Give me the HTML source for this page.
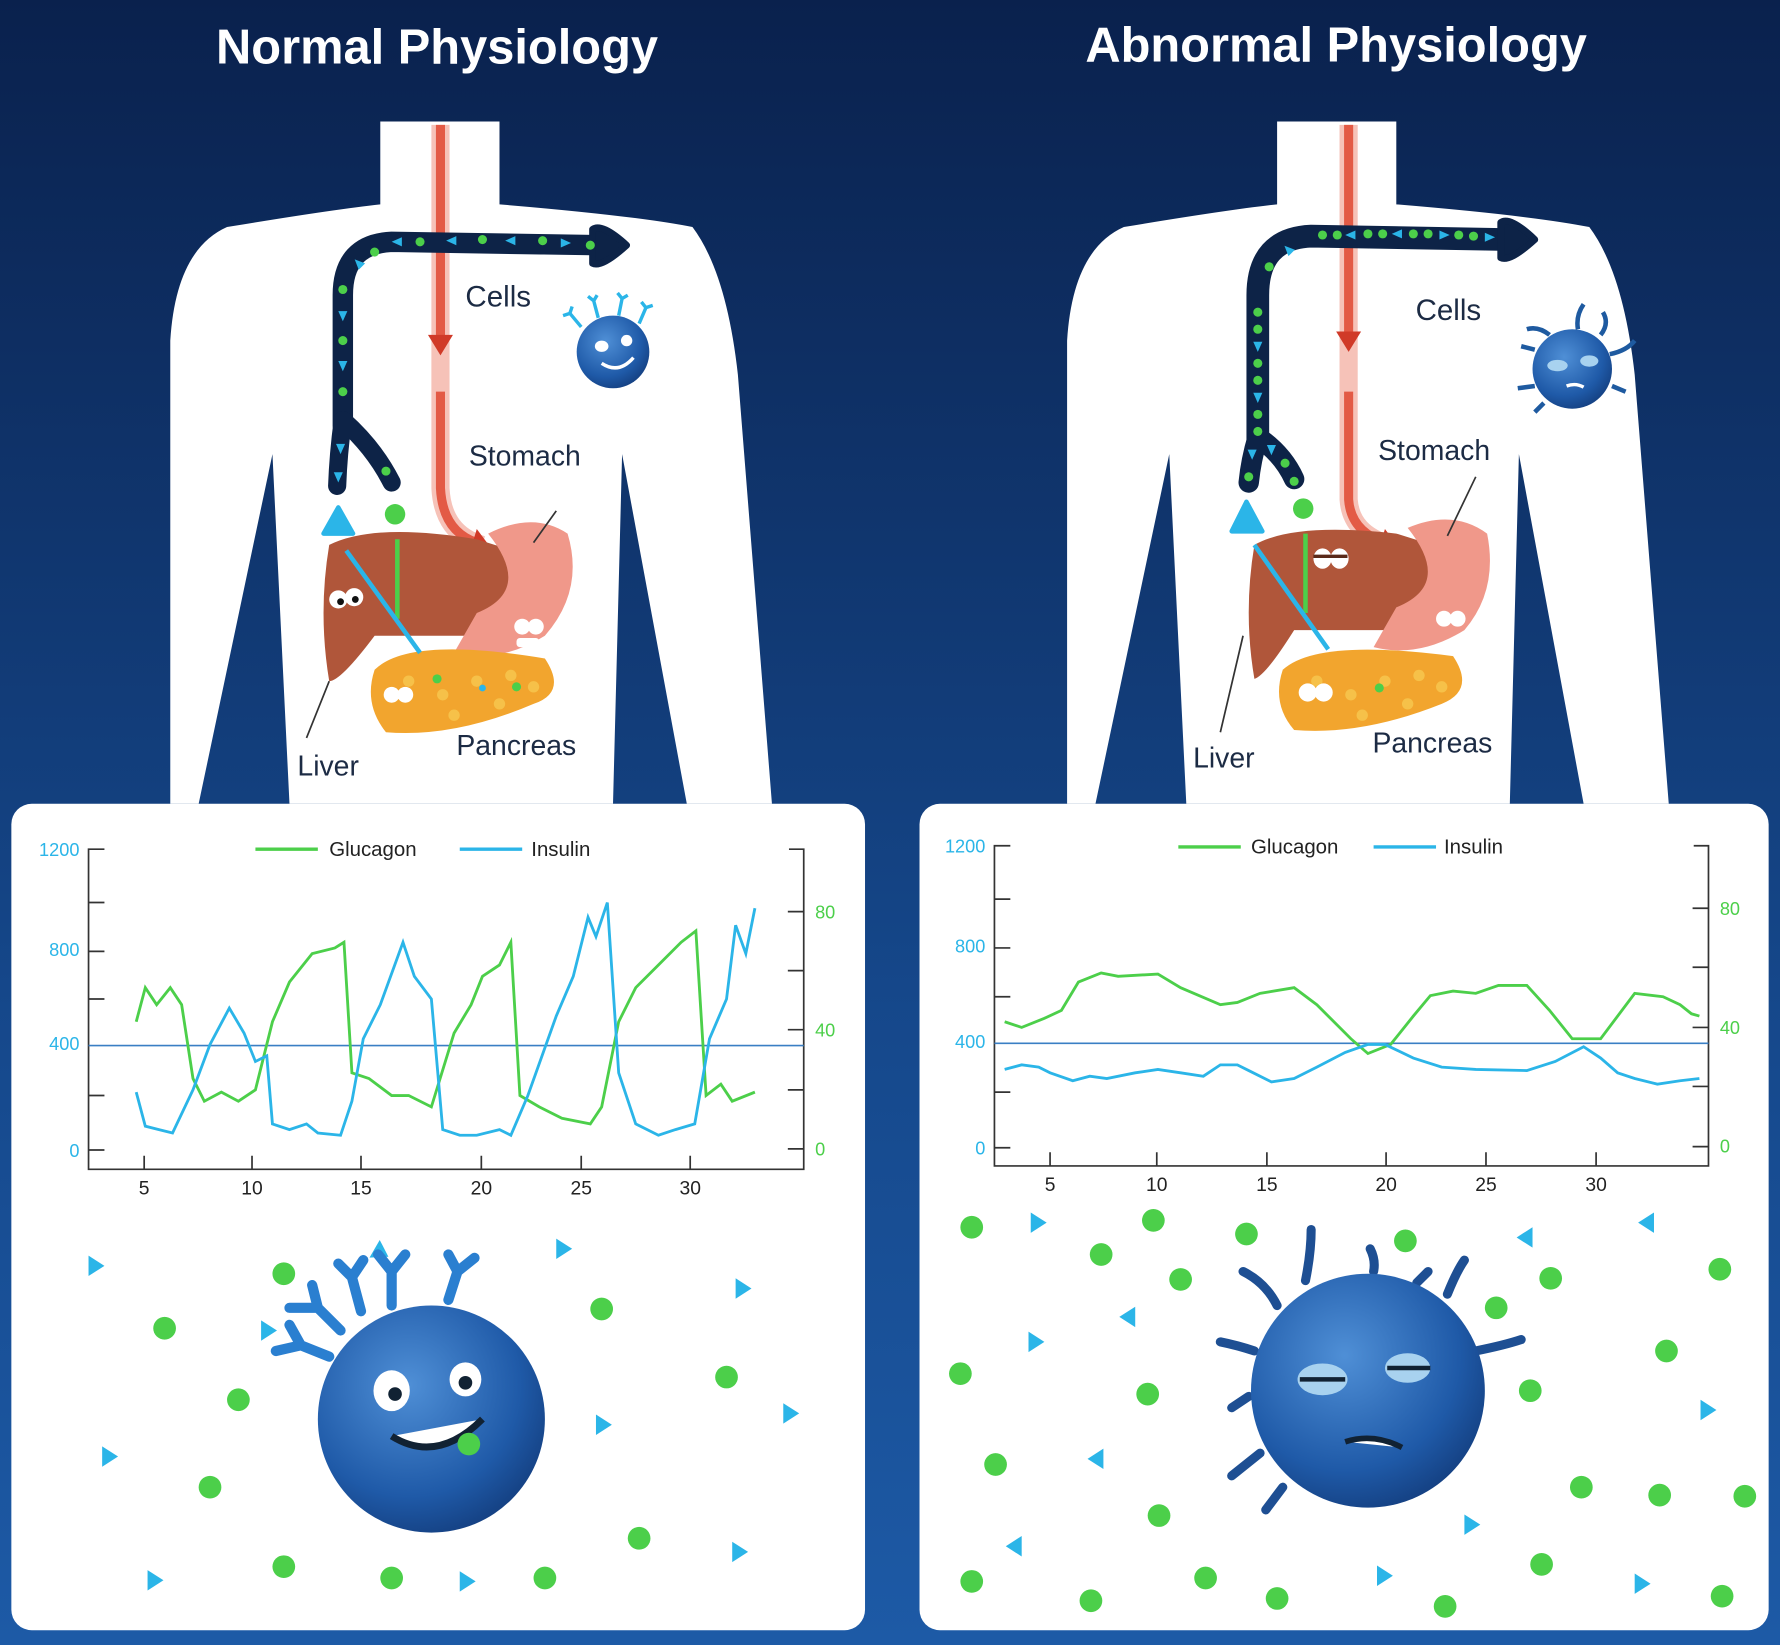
<!DOCTYPE html>
<html><head><meta charset="utf-8"><style>
html,body{margin:0;padding:0;background:#0d2a5e;}
svg{display:block}
text{font-family:"Liberation Sans",sans-serif}
</style></head><body>
<svg width="1780" height="1645" viewBox="0 0 1568 1449" preserveAspectRatio="none" xmlns="http://www.w3.org/2000/svg">
<defs>
<linearGradient id="bg" x1="0" y1="0" x2="0" y2="1">
<stop offset="0" stop-color="#0a214d"/><stop offset="0.6" stop-color="#15478a"/><stop offset="1" stop-color="#1d5aa6"/></linearGradient>
<radialGradient id="cell" cx="0.4" cy="0.35" r="0.7"><stop offset="0" stop-color="#4f8fd6"/><stop offset="0.7" stop-color="#1f5aa8"/><stop offset="1" stop-color="#143f80"/></radialGradient>
<g id="body">
<path d="M335,107 L440,107 L440,180 Q560,190 610,200 Q640,240 650,330 L680,708 L605,708 L548,400 L540,708 L255,708 L240,400 L175,708 L150,708 L150,300 Q155,220 200,200 Q290,185 335,180 Z" fill="#fff"/>
</g>
<g id="tri"><path d="M0,-9 L14,0 L0,9 Z" fill="#2bb5e8"/></g>
<g id="st"><path d="M-4,-4 L5,0 L-4,4Z" fill="#2bb5e8"/></g>
</defs>
<rect width="1568" height="1449" fill="url(#bg)"/>
<text x="385" y="56" text-anchor="middle" fill="#fff" font-size="43" font-weight="bold">Normal Physiology</text>
<text x="1177" y="54" text-anchor="middle" fill="#fff" font-size="43" font-weight="bold">Abnormal Physiology</text>

<use href="#body"/>
<use href="#body" transform="translate(790,0)"/>

<!-- left organs -->
<path d="M388,110 L388,430 Q390,470 425,480" stroke="#f6c2b8" stroke-width="16" fill="none"/>
<path d="M388,110 L388,300" stroke="#e35a45" stroke-width="8" fill="none"/>
<path d="M388,345 L388,430 Q390,468 420,478" stroke="#e35a45" stroke-width="8" fill="none"/>
<path d="M377,295 L399,295 L388,313Z" fill="#d03a28"/>
<path d="M420,466 L432,482 L414,486Z" fill="#d03a28"/>
<path d="M302,375 L302,260 Q302,215 345,213 L528,216" stroke="#0d2347" stroke-width="18" fill="none" stroke-linecap="round"/>
<path d="M302,370 Q298,400 297,428 M302,370 Q330,395 345,425" stroke="#0d2347" stroke-width="16" fill="none" stroke-linecap="round"/>
<path d="M522,202 Q530,196 552,216 Q530,236 522,232 Z" fill="#0d2347" stroke="#0d2347" stroke-width="6" stroke-linejoin="round"/>
<g fill="#4ccf4a"><circle cx="302" cy="300" r="4"/><circle cx="302" cy="345" r="4"/><circle cx="302" cy="255" r="4"/><circle cx="330" cy="222" r="4"/><circle cx="370" cy="213" r="4"/><circle cx="425" cy="211" r="4"/><circle cx="478" cy="212" r="4"/><circle cx="520" cy="216" r="4"/><circle cx="340" cy="415" r="4"/></g>
<use href="#st" transform="translate(302,278) rotate(90)"/><use href="#st" transform="translate(302,322) rotate(90)"/><use href="#st" transform="translate(300,395) rotate(90)"/><use href="#st" transform="translate(298,420) rotate(90)"/><use href="#st" transform="translate(350,213) rotate(180)"/><use href="#st" transform="translate(398,212) rotate(180)"/><use href="#st" transform="translate(450,212) rotate(180)"/><use href="#st" transform="translate(498,214)"/><use href="#st" transform="translate(316,232) rotate(-135)"/>
<circle cx="348" cy="453" r="9" fill="#4ccf4a"/>
<path d="M285,470 L298,447 L311,470Z" fill="#2bb5e8" stroke="#2bb5e8" stroke-width="4" stroke-linejoin="round"/>
<path d="M290,480 Q330,460 420,475 L500,500 Q500,540 440,560 L330,560 Q300,600 290,600 Q280,540 290,480Z" fill="#b0563a"/>
<path d="M430,470 Q470,450 500,470 Q515,520 480,560 Q440,585 400,575 L420,540 Q470,520 430,470Z" fill="#f0988a"/>
<path d="M330,590 Q360,560 480,580 Q500,610 470,620 Q400,650 340,645 Q320,620 330,590Z" fill="#f2a52e"/>
<g fill="#f8c850" opacity="0.8"><circle cx="360" cy="600" r="5"/><circle cx="390" cy="612" r="5"/><circle cx="420" cy="600" r="5"/><circle cx="450" cy="595" r="5"/><circle cx="470" cy="605" r="5"/><circle cx="400" cy="630" r="5"/><circle cx="440" cy="620" r="5"/></g>
<circle cx="385" cy="598" r="4" fill="#4ccf4a"/><circle cx="455" cy="605" r="4" fill="#4ccf4a"/><circle cx="425" cy="606" r="3" fill="#2bb5e8"/>
<line x1="350" y1="545" x2="350" y2="475" stroke="#4ccf4a" stroke-width="4"/>
<line x1="370" y1="575" x2="305" y2="485" stroke="#2bb5e8" stroke-width="4"/>
<circle cx="298" cy="528" r="8" fill="#fff"/><circle cx="312" cy="526" r="8" fill="#fff"/><circle cx="300" cy="530" r="3" fill="#111"/><circle cx="313" cy="528" r="3" fill="#111"/>
<circle cx="460" cy="552" r="7" fill="#fff"/><circle cx="472" cy="552" r="7" fill="#fff"/><rect x="455" y="562" width="20" height="8" rx="3" fill="#fff"/>
<circle cx="345" cy="612" r="7" fill="#fff"/><circle cx="357" cy="612" r="7" fill="#fff"/>
<line x1="470" y1="478" x2="490" y2="450" stroke="#333" stroke-width="1.5"/>
<line x1="290" y1="600" x2="270" y2="650" stroke="#333" stroke-width="1.5"/>
<text x="410" y="270" fill="#1c2b44" font-size="26">Cells</text>
<text x="413" y="410" fill="#1c2b44" font-size="25">Stomach</text>
<text x="262" y="683" fill="#1c2b44" font-size="25">Liver</text>
<text x="402" y="665" fill="#1c2b44" font-size="25">Pancreas</text>
<circle cx="540" cy="310" r="32" fill="url(#cell)"/>
<path d="M512,288 l-10,-12 l-6,2 M502,276 l2,-6 M527,280 l-4,-15 M523,265 l-5,-4 M523,265 l3,-5 M545,278 l3,-15 M548,263 l-4,-5 M548,263 l5,-3 M563,285 l6,-14 M569,271 l-4,-5 M569,271 l6,-2" stroke="#2bb5e8" stroke-width="3" fill="none"/>
<ellipse cx="530" cy="305" rx="6" ry="5" fill="#fff"/><ellipse cx="552" cy="300" rx="5" ry="5" fill="#fff"/><path d="M530,320 Q545,330 558,315" stroke="#fff" stroke-width="3" fill="none"/>

<!-- right organs -->
<path d="M1188,110 L1188,440 Q1190,470 1225,480" stroke="#f6c2b8" stroke-width="16" fill="none"/>
<path d="M1188,110 L1188,295" stroke="#e35a45" stroke-width="8" fill="none"/>
<path d="M1188,345 L1188,440 Q1190,468 1220,478" stroke="#e35a45" stroke-width="8" fill="none"/>
<path d="M1177,292 L1199,292 L1188,310Z" fill="#d03a28"/>
<path d="M1220,466 L1232,482 L1214,486Z" fill="#d03a28"/>
<path d="M1108,390 L1108,260 Q1108,210 1155,208 L1328,211" stroke="#0d2347" stroke-width="20" fill="none" stroke-linecap="round"/>
<path d="M1108,385 Q1102,405 1100,425 M1108,385 Q1130,400 1140,422" stroke="#0d2347" stroke-width="18" fill="none" stroke-linecap="round"/>
<path d="M1322,196 Q1330,190 1352,211 Q1330,231 1322,227 Z" fill="#0d2347" stroke="#0d2347" stroke-width="6" stroke-linejoin="round"/>
<g fill="#4ccf4a"><circle cx="1108" cy="275" r="4"/><circle cx="1108" cy="290" r="4"/><circle cx="1108" cy="320" r="4"/><circle cx="1108" cy="335" r="4"/><circle cx="1108" cy="365" r="4"/><circle cx="1108" cy="380" r="4"/><circle cx="1100" cy="420" r="4"/><circle cx="1132" cy="408" r="4"/><circle cx="1140" cy="424" r="4"/><circle cx="1118" cy="235" r="4"/><circle cx="1165" cy="207" r="4"/><circle cx="1178" cy="207" r="4"/><circle cx="1205" cy="206" r="4"/><circle cx="1218" cy="206" r="4"/><circle cx="1245" cy="206" r="4"/><circle cx="1258" cy="206" r="4"/><circle cx="1285" cy="207" r="4"/><circle cx="1298" cy="208" r="4"/></g>
<use href="#st" transform="translate(1108,305) rotate(90)"/><use href="#st" transform="translate(1108,350) rotate(90)"/><use href="#st" transform="translate(1103,400) rotate(90)"/><use href="#st" transform="translate(1120,396) rotate(90)"/><use href="#st" transform="translate(1190,207) rotate(180)"/><use href="#st" transform="translate(1231,206) rotate(180)"/><use href="#st" transform="translate(1272,207)"/><use href="#st" transform="translate(1312,209)"/><use href="#st" transform="translate(1135,220) rotate(-135)"/>
<circle cx="1148" cy="448" r="9" fill="#4ccf4a"/>
<path d="M1085,468 L1098,442 L1112,468Z" fill="#2bb5e8" stroke="#2bb5e8" stroke-width="4" stroke-linejoin="round"/>
<path d="M1105,480 Q1140,460 1230,470 L1310,495 Q1310,535 1250,555 L1140,555 Q1115,595 1105,598 Q1095,540 1105,480Z" fill="#b0563a"/>
<path d="M1240,465 Q1280,448 1310,470 Q1320,520 1290,555 Q1250,580 1210,570 L1230,535 Q1280,515 1240,465Z" fill="#f0988a"/>
<path d="M1130,590 Q1160,562 1280,578 Q1300,608 1270,620 Q1200,648 1140,643 Q1120,620 1130,590Z" fill="#f2a52e"/>
<g fill="#f8c850" opacity="0.8"><circle cx="1160" cy="600" r="5"/><circle cx="1190" cy="612" r="5"/><circle cx="1220" cy="600" r="5"/><circle cx="1250" cy="595" r="5"/><circle cx="1270" cy="605" r="5"/><circle cx="1200" cy="630" r="5"/><circle cx="1240" cy="620" r="5"/></g>
<circle cx="1215" cy="606" r="4" fill="#4ccf4a"/>
<line x1="1150" y1="540" x2="1150" y2="470" stroke="#4ccf4a" stroke-width="4"/>
<line x1="1170" y1="572" x2="1105" y2="480" stroke="#2bb5e8" stroke-width="4"/>
<ellipse cx="1165" cy="492" rx="8" ry="9" fill="#fff"/><ellipse cx="1180" cy="492" rx="8" ry="9" fill="#fff"/><path d="M1157,490 h30" stroke="#5a2a1a" stroke-width="3"/>
<circle cx="1272" cy="545" r="7" fill="#fff"/><circle cx="1284" cy="545" r="7" fill="#fff"/>
<circle cx="1152" cy="610" r="8" fill="#fff"/><circle cx="1166" cy="610" r="8" fill="#fff"/>
<line x1="1275" y1="472" x2="1300" y2="420" stroke="#333" stroke-width="1.5"/>
<line x1="1095" y1="560" x2="1075" y2="645" stroke="#333" stroke-width="1.5"/>
<text x="1247" y="282" fill="#1c2b44" font-size="26">Cells</text>
<text x="1214" y="405" fill="#1c2b44" font-size="25">Stomach</text>
<text x="1051" y="676" fill="#1c2b44" font-size="25">Liver</text>
<text x="1209" y="663" fill="#1c2b44" font-size="25">Pancreas</text>
<circle cx="1385" cy="325" r="35" fill="url(#cell)"/>
<path d="M1365,295 q-10,-8 -20,-5 M1390,290 q-2,-12 5,-22 M1410,295 q8,-10 2,-20 M1418,312 q15,-3 22,-12 M1352,308 l-12,-3 M1352,340 l-15,2 M1360,355 l-8,8 M1420,340 l12,5" stroke="#1e5aa0" stroke-width="4" fill="none"/>
<ellipse cx="1372" cy="322" rx="9" ry="5" fill="#a8d2ef"/><ellipse cx="1400" cy="318" rx="8" ry="5" fill="#a8d2ef"/><path d="M1380,340 q8,-3 15,1" stroke="#fff" stroke-width="3" fill="none"/>

<!-- panels -->
<rect x="10" y="708" width="752" height="728" rx="18" fill="#fff"/>
<rect x="810" y="708" width="748" height="728" rx="18" fill="#fff"/>

<!-- left chart -->
<g stroke="#333" stroke-width="1.5" fill="none">
<path d="M92,748 H78 V1030 H708 V748 H695"/>
<path d="M78,795 h14 M78,838 h14 M78,880 h14 M78,965 h14 M78,1013 h14 M708,803 h-14 M708,855 h-14 M708,907 h-14 M708,960 h-14 M708,1012 h-14 M127,1030 v-12 M222,1030 v-12 M318,1030 v-12 M424,1030 v-12 M512,1030 v-12 M608,1030 v-12"/>
</g>
<line x1="78" y1="921" x2="708" y2="921" stroke="#3a7fc4" stroke-width="1.5"/>
<g font-size="16" fill="#2bb5e8" text-anchor="end"><text x="70" y="754">1200</text><text x="70" y="842">800</text><text x="70" y="925">400</text><text x="70" y="1019">0</text></g>
<g font-size="16" fill="#4ccf4a"><text x="718" y="809">80</text><text x="718" y="913">40</text><text x="718" y="1018">0</text></g>
<g font-size="17" fill="#222" text-anchor="middle"><text x="127" y="1052">5</text><text x="222" y="1052">10</text><text x="318" y="1052">15</text><text x="424" y="1052">20</text><text x="512" y="1052">25</text><text x="608" y="1052">30</text></g>
<line x1="225" y1="748" x2="280" y2="748" stroke="#4ccf4a" stroke-width="3"/><text x="290" y="754" font-size="18" fill="#222">Glucagon</text>
<line x1="405" y1="748" x2="460" y2="748" stroke="#2bb5e8" stroke-width="3"/><text x="468" y="754" font-size="18" fill="#222">Insulin</text>
<polyline fill="none" stroke="#4ccf4a" stroke-width="2.5" points="120,900 128,870 138,885 150,870 160,885 170,950 180,970 195,962 210,970 225,960 240,900 255,865 275,840 295,835 303,830 310,945 325,950 345,965 360,965 380,975 400,910 415,885 425,860 440,850 450,830 458,965 475,975 495,985 520,990 530,975 545,900 560,870 580,850 600,830 613,820 622,965 635,955 645,970 665,962"/>
<polyline fill="none" stroke="#2bb5e8" stroke-width="2.5" points="120,962 128,992 140,995 152,998 170,960 185,920 202,888 215,910 225,935 235,930 240,990 255,995 270,990 280,998 300,1000 310,970 320,915 335,885 355,830 365,860 380,880 390,995 405,1000 420,1000 440,995 450,1000 465,965 490,895 505,860 518,808 525,825 535,795 545,945 560,990 580,1000 595,995 612,990 625,915 640,880 648,815 657,840 665,800"/>

<!-- right chart -->
<g stroke="#333" stroke-width="1.5" fill="none">
<path d="M890,745 H876 V1027 H1505 V745 H1492"/>
<path d="M876,792 h14 M876,835 h14 M876,878 h14 M876,962 h14 M876,1011 h14 M1505,800 h-14 M1505,852 h-14 M1505,905 h-14 M1505,957 h-14 M1505,1010 h-14 M925,1027 v-12 M1019,1027 v-12 M1116,1027 v-12 M1221,1027 v-12 M1309,1027 v-12 M1406,1027 v-12"/>
</g>
<line x1="876" y1="919" x2="1505" y2="919" stroke="#3a7fc4" stroke-width="1.5"/>
<g font-size="16" fill="#2bb5e8" text-anchor="end"><text x="868" y="751">1200</text><text x="868" y="839">800</text><text x="868" y="923">400</text><text x="868" y="1017">0</text></g>
<g font-size="16" fill="#4ccf4a"><text x="1515" y="806">80</text><text x="1515" y="911">40</text><text x="1515" y="1015">0</text></g>
<g font-size="17" fill="#222" text-anchor="middle"><text x="925" y="1049">5</text><text x="1019" y="1049">10</text><text x="1116" y="1049">15</text><text x="1221" y="1049">20</text><text x="1309" y="1049">25</text><text x="1406" y="1049">30</text></g>
<line x1="1038" y1="746" x2="1093" y2="746" stroke="#4ccf4a" stroke-width="3"/><text x="1102" y="752" font-size="18" fill="#222">Glucagon</text>
<line x1="1210" y1="746" x2="1265" y2="746" stroke="#2bb5e8" stroke-width="3"/><text x="1272" y="752" font-size="18" fill="#222">Insulin</text>
<polyline fill="none" stroke="#4ccf4a" stroke-width="2.5" points="885,900 900,905 920,897 935,890 950,865 970,857 985,860 1020,858 1040,870 1075,885 1090,883 1110,875 1140,870 1160,885 1190,915 1205,928 1225,920 1245,895 1260,877 1280,873 1300,875 1320,868 1345,868 1365,890 1385,915 1410,915 1440,875 1465,878 1480,885 1490,893 1497,895"/>
<polyline fill="none" stroke="#2bb5e8" stroke-width="2.5" points="885,942 900,938 915,940 925,945 945,952 960,948 975,950 1000,945 1020,942 1040,945 1060,948 1075,938 1090,938 1100,943 1120,953 1140,950 1160,940 1185,927 1205,920 1220,920 1245,932 1270,940 1300,942 1345,943 1370,935 1395,922 1410,932 1425,945 1440,950 1460,955 1480,952 1497,950"/>

<!-- left dots & triangles -->
<g fill="#4ccf4a">
<circle cx="145" cy="1170" r="10"/><circle cx="210" cy="1233" r="10"/><circle cx="185" cy="1310" r="10"/><circle cx="250" cy="1380" r="10"/><circle cx="345" cy="1390" r="10"/><circle cx="480" cy="1390" r="10"/><circle cx="563" cy="1355" r="10"/><circle cx="640" cy="1213" r="10"/><circle cx="530" cy="1153" r="10"/><circle cx="250" cy="1122" r="10"/>
</g>
<g>
<use href="#tri" transform="translate(78,1115)"/><use href="#tri" transform="translate(648,1135)"/><use href="#tri" transform="translate(690,1245)"/><use href="#tri" transform="translate(90,1283)"/><use href="#tri" transform="translate(130,1392)"/><use href="#tri" transform="translate(405,1393)"/><use href="#tri" transform="translate(645,1367)"/><use href="#tri" transform="translate(490,1100)"/><use href="#tri" transform="translate(525,1255)"/><use href="#tri" transform="translate(230,1172)"/><use href="#tri" transform="translate(330,1100) rotate(30)"/>
</g>
<g stroke="#2a7fd0" stroke-width="9" stroke-linecap="round" fill="none">
<path d="M300,1172 l-20,-20 l-25,0 M280,1152 l-5,-20 M318,1155 l-8,-30 l-12,-12 M310,1125 l10,-15 M345,1150 v-30 l-12,-15 M345,1120 l12,-15 M395,1145 l8,-25 l-8,-15 M403,1120 l15,-12 M290,1195 l-25,-10 l-22,5 M265,1185 l-10,-18"/>
</g>
<circle cx="380" cy="1250" r="100" fill="url(#cell)"/>
<ellipse cx="345" cy="1225" rx="16" ry="18" fill="#fff"/><ellipse cx="410" cy="1215" rx="14" ry="15" fill="#fff"/>
<circle cx="348" cy="1228" r="6" fill="#123"/><circle cx="410" cy="1218" r="6" fill="#123"/>
<path d="M345,1265 Q385,1290 425,1250" stroke="#123" stroke-width="6" fill="#fff"/>
<circle cx="413" cy="1272" r="10" fill="#4ccf4a"/>

<!-- right dots & triangles -->
<g fill="#4ccf4a">
<circle cx="856" cy="1081" r="10"/><circle cx="970" cy="1105" r="10"/><circle cx="1016" cy="1075" r="10"/><circle cx="1098" cy="1087" r="10"/><circle cx="1040" cy="1127" r="10"/><circle cx="1238" cy="1093" r="10"/><circle cx="1318" cy="1152" r="10"/><circle cx="1366" cy="1126" r="10"/><circle cx="1515" cy="1118" r="10"/><circle cx="1468" cy="1190" r="10"/><circle cx="1348" cy="1225" r="10"/><circle cx="846" cy="1210" r="10"/><circle cx="1011" cy="1228" r="10"/><circle cx="877" cy="1290" r="10"/><circle cx="1021" cy="1335" r="10"/><circle cx="1393" cy="1310" r="10"/><circle cx="1462" cy="1317" r="10"/><circle cx="1537" cy="1318" r="10"/><circle cx="1358" cy="1378" r="10"/><circle cx="856" cy="1393" r="10"/><circle cx="961" cy="1410" r="10"/><circle cx="1062" cy="1390" r="10"/><circle cx="1125" cy="1408" r="10"/><circle cx="1273" cy="1415" r="10"/><circle cx="1517" cy="1406" r="10"/>
</g>
<g>
<use href="#tri" transform="translate(908,1077)"/><use href="#tri" transform="translate(1350,1090) scale(-1,1)"/><use href="#tri" transform="translate(1457,1077) scale(-1,1)"/><use href="#tri" transform="translate(1000,1160) scale(-1,1)"/><use href="#tri" transform="translate(906,1182)"/><use href="#tri" transform="translate(1498,1242)"/><use href="#tri" transform="translate(972,1285) scale(-1,1)"/><use href="#tri" transform="translate(900,1362) scale(-1,1)"/><use href="#tri" transform="translate(1290,1343)"/><use href="#tri" transform="translate(1213,1388)"/><use href="#tri" transform="translate(1440,1395)"/>
</g>
<g stroke="#1e4f93" stroke-width="8" stroke-linecap="round" fill="none">
<path d="M1125,1150 q-10,-20 -30,-30 M1150,1128 q5,-25 5,-45 M1210,1120 q2,-10 -3,-20 M1248,1130 l10,-10 M1275,1140 q8,-20 15,-30 M1300,1190 q25,-5 40,-10 M1105,1190 q-15,-5 -30,-8 M1110,1280 l-25,20 M1130,1310 l-15,20 M1100,1230 l-15,10"/>
</g>
<circle cx="1205" cy="1225" r="103" fill="url(#cell)"/>
<ellipse cx="1165" cy="1215" rx="22" ry="14" fill="#a8d2ef"/><ellipse cx="1240" cy="1205" rx="20" ry="13" fill="#a8d2ef"/>
<path d="M1145,1215 h40 M1222,1205 h38" stroke="#123" stroke-width="4"/>
<path d="M1185,1270 Q1210,1262 1235,1275" stroke="#123" stroke-width="5" fill="#fff"/>
</svg>
</body></html>
